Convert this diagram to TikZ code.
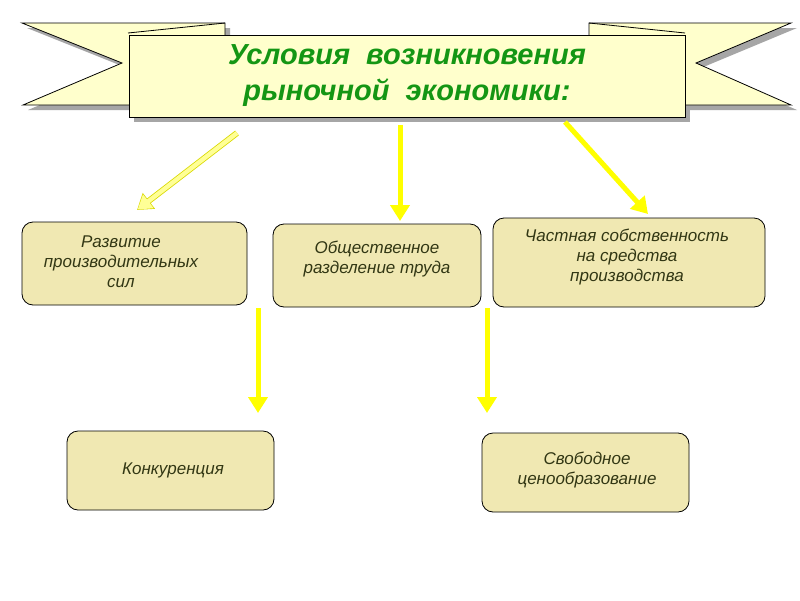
\documentclass[tikz,border=0pt]{standalone}
\usepackage{fontspec}
\setmainfont{Liberation Sans}
\usetikzlibrary{arrows.meta,calc}
\definecolor{rib}{RGB}{255,255,204}
\definecolor{boxf}{RGB}{240,232,178}
\definecolor{tgreen}{RGB}{20,150,20}
\definecolor{ttext}{RGB}{50,55,20}
\definecolor{yel}{RGB}{255,255,0}
\definecolor{paley}{RGB}{255,255,150}
\tikzset{x=1pt,y=-1pt,
 ribbon/.style={fill=rib,draw=black,line width=0.8pt},
 shad/.style={fill=gray!70},
 cbox/.style={draw=black,fill=boxf,rounded corners=11pt,line width=0.8pt},
 btxt/.style={font=\itshape\fontsize{17}{20}\selectfont,text=ttext,align=center},
 yarr/.style={draw=yel,line width=5pt,-{Triangle[length=16pt,width=19pt]}},
}
\begin{document}
\begin{tikzpicture}
\fill[white] (0,0) rectangle (800,600);
\useasboundingbox (0,0) rectangle (800,600);
\fill[shad] (27,28)--(230,28)--(230,110)--(28,110)--(127,68)--cycle;
\fill[shad] (594,28)--(797,28)--(701,68)--(797,110)--(594,110)--cycle;
\fill[shad] (134,40) rectangle (690,122);
\draw[ribbon] (22,23)--(225,23)--(225,105)--(23,105)--(122,63)--cycle;
\draw[ribbon] (589,23)--(791,23)--(696,63)--(791,105)--(589,105)--cycle;
\draw[line width=0.8pt] (128,33)--(225,23);
\draw[line width=0.8pt] (589,23)--(685,33);
\node[draw=black,fill=rib,line width=0.8pt,minimum width=556pt,minimum height=82pt,inner sep=0pt,
  font=\bfseries\itshape\fontsize{29}{36}\selectfont,text=tgreen,align=center] (title) at (407,76)
  {Условия\ \ возникновения\\ рыночной\ \ экономики:};
\node[cbox,minimum width=225pt,minimum height=83pt] (b1) at (134.5,263.5) {};
\node[btxt] at (121,262) {Развитие\\ производительных\\ сил};
\node[cbox,minimum width=208pt,minimum height=83pt] (b2) at (377,265.5) {};
\node[btxt] at (377,259) {Общественное\\ разделение труда};
\node[cbox,minimum width=272pt,minimum height=89pt] (b3) at (629,262.5) {};
\node[btxt] at (627,257) {Частная собственность\\ на средства\\ производства};
\node[cbox,minimum width=207pt,minimum height=79pt] (b4) at (170.5,470.5) {};
\node[btxt] at (173,470) {Конкуренция};
\node[cbox,minimum width=207pt,minimum height=79pt] (b5) at (585.5,472.5) {};
\node[btxt] at (587,470) {Свободное\\ ценообразование};
\coordinate (a1) at (237,133); \coordinate (a1e) at (137,210);
\draw[draw=yel!85!black,line width=6pt,-{Triangle[length=15pt,width=19pt]}] (a1)--(a1e);
\draw[draw=paley,line width=4.4pt,-{Triangle[length=13.5pt,width=16.5pt]}] (a1)--($(a1e)!0.8pt!(a1)$);
\draw[yarr] (400,125)--(400,221);
\draw[yarr] (565,122)--(648,214);
\draw[yarr] (258,308)--(258,413);
\draw[yarr] (487,308)--(487,413);
\end{tikzpicture}
\end{document}
